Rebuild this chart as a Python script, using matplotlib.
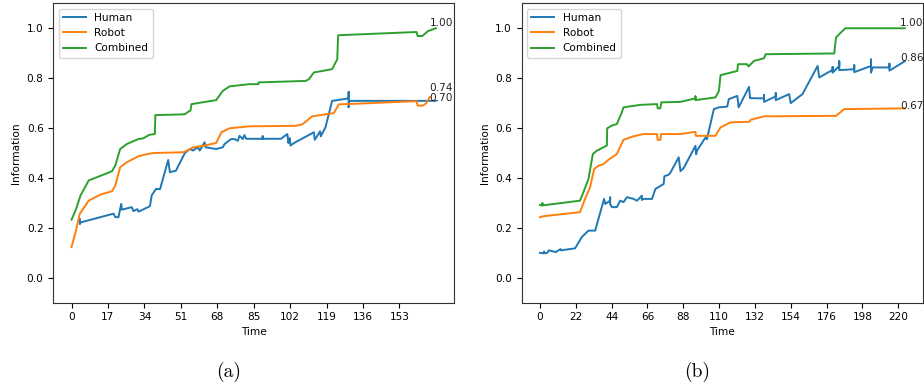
import numpy as np
import matplotlib
matplotlib.use("Agg")
import matplotlib.pyplot as plt

# ---- panel (a) ----
a_human_t = [3.9, 3.9, 4.3, 19.6, 20.4, 21.9, 23.2, 23.5, 28.1, 28.9, 30.7, 31.3,
             36.6, 37.4, 39.4, 41.3, 45.1, 45.9, 48.7, 52.9, 55.2, 56.7, 59.0,
             59.8, 62.1, 62.6, 67.5, 70.6, 71.4, 74.5, 76.0, 77.6, 78.4, 79.9,
             80.7, 81.5, 89.2, 89.2, 89.2, 97.7, 100.7, 101.2, 101.8, 102.2,
             103.8, 113.1, 113.5, 116.0, 116.3, 118.5, 121.6, 129.3, 129.3,
             129.3, 129.6, 170.0]
a_human = [0.235, 0.215, 0.222, 0.257, 0.243, 0.243, 0.296, 0.273, 0.283, 0.267,
           0.275, 0.265, 0.287, 0.330, 0.356, 0.355, 0.472, 0.423, 0.429, 0.500,
           0.516, 0.510, 0.523, 0.510, 0.543, 0.523, 0.516, 0.523, 0.536, 0.556,
           0.556, 0.549, 0.569, 0.556, 0.572, 0.557, 0.557, 0.567, 0.557, 0.557,
           0.576, 0.540, 0.560, 0.530, 0.540, 0.583, 0.553, 0.587, 0.567, 0.603,
           0.709, 0.719, 0.745, 0.683, 0.709, 0.709]

a_robot_t = [0, 1.9, 3.8, 8.0, 13.4, 18.9, 20.4, 22.7, 25.8, 31.2, 35.0, 38.2,
             52.1, 54.0, 56.7, 62.0, 67.5, 69.9, 73.7, 83.0, 104.6, 107.7,
             112.3, 122.4, 124.7, 137.0, 161.0, 161.5, 164.0, 165.5, 167.2]
a_robot = [0.123, 0.183, 0.256, 0.309, 0.333, 0.347, 0.369, 0.443, 0.463, 0.487,
           0.495, 0.500, 0.503, 0.510, 0.523, 0.530, 0.540, 0.583, 0.599, 0.607,
           0.609, 0.615, 0.647, 0.660, 0.695, 0.699, 0.708, 0.690, 0.690, 0.700,
           0.725]

a_comb_t = [0, 1.9, 4.2, 8.0, 18.9, 20.4, 22.7, 25.8, 31.2, 33.5, 36.3, 38.9,
            39.1, 52.8, 54.4, 55.5, 56.0, 67.5, 69.0, 70.6, 73.7, 83.0, 87.2,
            87.3, 109.3, 110.8, 113.1, 121.6, 124.0, 124.4, 161.0, 161.5, 163.7,
            166.4, 170.0]
a_comb = [0.233, 0.270, 0.330, 0.390, 0.427, 0.450, 0.516, 0.536, 0.556, 0.559,
          0.573, 0.576, 0.652, 0.655, 0.665, 0.670, 0.696, 0.712, 0.730, 0.749,
          0.767, 0.776, 0.776, 0.783, 0.789, 0.796, 0.823, 0.836, 0.876, 0.972,
          0.985, 0.969, 0.969, 0.989, 1.000]

a_end_values = [0.70, 0.74, 1.00]

# ---- panel (b) ----
b_human_t = [0, 2.0, 2.5, 3.0, 4.5, 5.5, 9.7, 12.7, 13.0, 21.6, 25.7, 29.8,
             33.9, 39.4, 40.1, 43.1, 43.1, 43.1, 44.2, 47.2, 49.3, 51.3, 53.4,
             57.5, 59.6, 62.6, 62.6, 63.7, 68.8, 70.9, 76.0, 76.4, 79.0, 80.0,
             85.2, 86.3, 88.3, 95.5, 95.9, 96.5, 101.7, 102.5, 106.8, 109.9,
             115.0, 116.0, 121.2, 122.0, 128.4, 129.0, 137.6, 137.6, 137.6,
             144.8, 144.8, 144.8, 153.0, 154.0, 161.2, 170.5, 171.5, 179.7,
             179.7, 179.7, 183.8, 183.8, 183.8, 193.0, 193.0, 193.0, 203.3,
             203.3, 203.3, 204.3, 214.6, 214.6, 214.6, 224.0]
b_human = [0.100, 0.098, 0.105, 0.098, 0.100, 0.110, 0.103, 0.115, 0.110, 0.118,
           0.163, 0.189, 0.189, 0.316, 0.296, 0.309, 0.322, 0.296, 0.283, 0.283,
           0.309, 0.303, 0.323, 0.316, 0.309, 0.329, 0.312, 0.316, 0.316, 0.356,
           0.376, 0.407, 0.413, 0.420, 0.483, 0.427, 0.440, 0.529, 0.495, 0.510,
           0.563, 0.555, 0.676, 0.683, 0.686, 0.716, 0.729, 0.683, 0.765, 0.720,
           0.719, 0.733, 0.705, 0.727, 0.740, 0.712, 0.736, 0.700, 0.736, 0.849,
           0.803, 0.833, 0.845, 0.822, 0.849, 0.868, 0.832, 0.836, 0.852, 0.824,
           0.849, 0.875, 0.822, 0.843, 0.843, 0.858, 0.830, 0.868]

b_robot_t = [0, 2.5, 24.6, 27.7, 30.8, 33.3, 35.9, 38.9, 42.1, 47.2, 51.3, 57.5,
             63.7, 71.9, 72.3, 74.0, 74.4, 86.3, 95.5, 95.7, 107.8, 110.9,
             117.1, 128.4, 129.4, 137.6, 181.8, 186.9, 224.0]
b_robot = [0.243, 0.247, 0.263, 0.316, 0.363, 0.436, 0.449, 0.455, 0.473, 0.496,
           0.553, 0.567, 0.576, 0.576, 0.553, 0.553, 0.576, 0.576, 0.585, 0.569,
           0.569, 0.603, 0.623, 0.625, 0.633, 0.647, 0.649, 0.676, 0.679]

b_comb_t = [0, 1.5, 1.5, 1.6, 24.6, 26.7, 29.8, 32.5, 34.9, 39.0, 41.1, 41.3,
            44.1, 47.2, 50.3, 51.3, 55.4, 61.6, 71.9, 72.3, 73.9, 74.6, 86.3,
            95.5, 95.5, 95.5, 107.8, 109.9, 110.9, 121.2, 121.6, 127.1, 128.1,
            131.4, 137.6, 138.6, 180.7, 181.8, 184.8, 187.5, 224.0]
b_comb = [0.292, 0.290, 0.300, 0.290, 0.309, 0.343, 0.396, 0.496, 0.509, 0.523,
          0.530, 0.599, 0.610, 0.616, 0.663, 0.683, 0.687, 0.693, 0.696, 0.679,
          0.679, 0.703, 0.705, 0.719, 0.727, 0.712, 0.723, 0.749, 0.812, 0.829,
          0.856, 0.856, 0.847, 0.869, 0.880, 0.896, 0.899, 0.963, 0.983, 1.000,
          1.000]

b_end_values = [0.86, 0.67, 1.00]

series_names = ["Human", "Robot", "Combined"]
tick_steps = [17, 22]

FS = 7.6


def draw_panel(ax, series, end_values, step):
    colors = ["#1f77b4", "#ff7f0e", "#2ca02c"]
    last_t = max(t[-1] for t, _ in series)
    for (t, y), name, c in zip(series, series_names, colors):
        ax.plot(t, y, color=c, lw=1.4, label=name)
    # final values written near the right end
    for v in end_values:
        ax.text(last_t - 3, v, f"{v:.2f}", fontsize=FS, va="bottom", color="#222")
    ax.set_ylim(-0.1, 1.1)
    ax.set_xticks(np.arange(0, last_t, step))
    ax.set_xlabel("Time", fontsize=FS, labelpad=3)
    ax.set_ylabel("Information", fontsize=FS)
    ax.tick_params(labelsize=FS, length=3.5, width=0.8)
    ax.legend(loc="upper left", fontsize=FS, handlelength=2.2)
    for s in ax.spines.values():
        s.set_linewidth(0.8)
        s.set_color("#333")


fig = plt.figure(figsize=(9.24, 3.9), dpi=100)
ax_a = fig.add_axes([0.0577, 0.2238, 0.4337, 0.7677])
ax_b = fig.add_axes([0.5646, 0.2238, 0.4343, 0.7677])

draw_panel(ax_a, [(a_human_t, a_human), (a_robot_t, a_robot), (a_comb_t, a_comb)],
           a_end_values, tick_steps[0])
draw_panel(ax_b, [(b_human_t, b_human), (b_robot_t, b_robot), (b_comb_t, b_comb)],
           b_end_values, tick_steps[1])

# sub-figure captions
fig.text(0.247, 0.047, "(a)", ha="center", va="center", fontsize=14, family="cmr10")
fig.text(0.754, 0.047, "(b)", ha="center", va="center", fontsize=14, family="cmr10")

fig.savefig("out.png", dpi=100)
